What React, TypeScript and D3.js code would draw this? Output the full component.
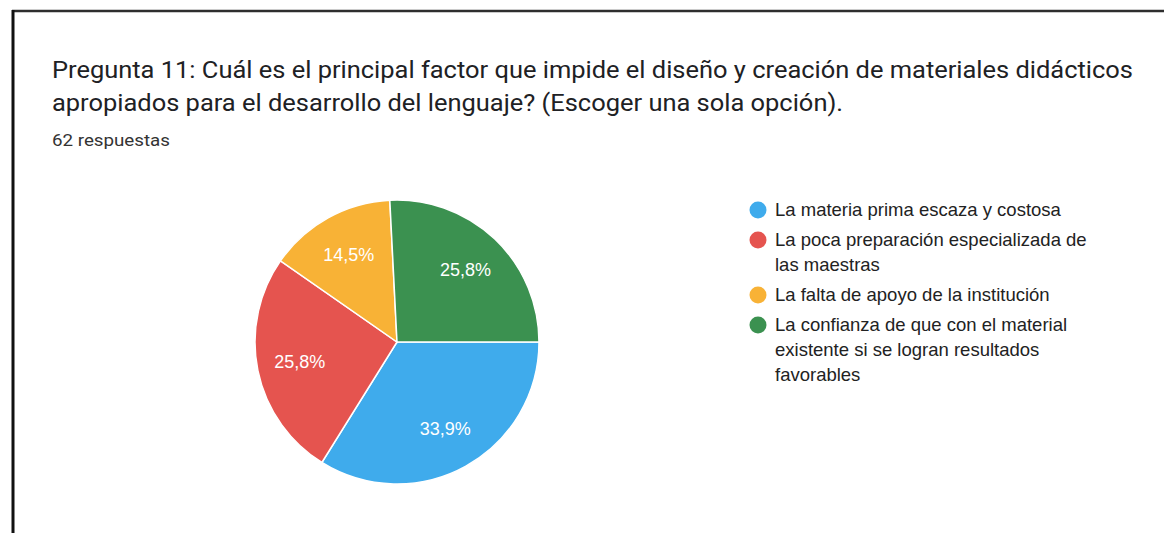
import React from "react";
import * as d3 from "d3";

const titleLines = [
  "Pregunta 11: Cuál es el principal factor que impide el diseño y creación de materiales didácticos",
  "apropiados para el desarrollo del lenguaje? (Escoger una sola opción).",
];
const subtitle = "62 respuestas";
const categories = [
  "La materia prima escaza y costosa",
  "La poca preparación especializada de las maestras",
  "La falta de apoyo de la institución",
  "La confianza de que con el material existente si se logran resultados favorables",
];
const legendLines = [
  ["La materia prima escaza y costosa"],
  ["La poca preparación especializada de", "las maestras"],
  ["La falta de apoyo de la institución"],
  ["La confianza de que con el material", "existente si se logran resultados", "favorables"],
];
const counts = [21, 16, 9, 16];
const colors = ["#3fabec", "#e5544f", "#f8b236", "#3b9150"];

export default function App() {
  const W = 1164, H = 533;
  const cx = 397, cy = 342, R = 142;
  const total = d3.sum(counts);
  const pie = d3.pie<number>().sort(null).startAngle(Math.PI / 2).endAngle(Math.PI / 2 + 2 * Math.PI);
  const arcs = pie(counts);
  const arcGen = d3.arc<d3.PieArcDatum<number>>().innerRadius(0).outerRadius(R);
  const labelArc = d3.arc<d3.PieArcDatum<number>>().innerRadius(R * 0.7).outerRadius(R * 0.7);
  const fmt = (v: number) => ((v / total) * 100).toFixed(1).replace(".", ",") + "%";

  const legendX = 758;
  const lineH = 25;
  let y = 210;
  const legendItems: { lines: string[]; y0: number; color: string }[] = [];
  legendLines.forEach((lines, i) => {
    legendItems.push({ lines, y0: y, color: colors[i] });
    y += lines.length * lineH + 5;
  });

  return (
    <svg width={W} height={H} style={{ position: "absolute", left: 0, top: 0, background: "#fff" }}>
      <rect x={0} y={0} width={W} height={H} fill="#fff" />
      <line x1={12} y1={11} x2={W} y2={11} stroke="#2e2e2e" strokeWidth={2.5} />
      <line x1={13} y1={10} x2={13} y2={H} stroke="#111" strokeWidth={3} />
      <g fontFamily="Roboto, 'Open Sans', sans-serif" fill="#202124">
        <text x={52} y={78} fontSize={23} textLength={1081} lengthAdjust="spacingAndGlyphs">{titleLines[0]}</text>
        <text x={52} y={111} fontSize={23} textLength={791} lengthAdjust="spacingAndGlyphs">{titleLines[1]}</text>
        <text x={52} y={146} fontSize={16} fill="#333" textLength={118} lengthAdjust="spacingAndGlyphs">{subtitle}</text>
      </g>
      <g transform={`translate(${cx},${cy})`}>
        {arcs.map((a, i) => (
          <path key={i} d={arcGen(a) || ""} fill={colors[i]} stroke="#fff" strokeWidth={1.5}>
            <title>{categories[i]}</title>
          </path>
        ))}
        {arcs.map((a, i) => {
          const [lx, ly] = labelArc.centroid(a);
          return (
            <text key={"l" + i} x={lx} y={ly} dy="0.35em" textAnchor="middle" fill="#fff"
              fontFamily="'Liberation Sans', Arial, sans-serif" fontSize={18}>
              {fmt(a.data)}
            </text>
          );
        })}
      </g>
      <g fontFamily="'Liberation Sans', Arial, sans-serif" fontSize={18.5} fill="#222">
        {legendItems.map((it, i) => (
          <g key={i}>
            <circle cx={legendX} cy={it.y0} r={8.5} fill={it.color} />
            {it.lines.map((t, j) => (
              <text key={j} x={775} y={it.y0 + j * lineH} dy="0.35em">{t}</text>
            ))}
          </g>
        ))}
      </g>
    </svg>
  );
}
